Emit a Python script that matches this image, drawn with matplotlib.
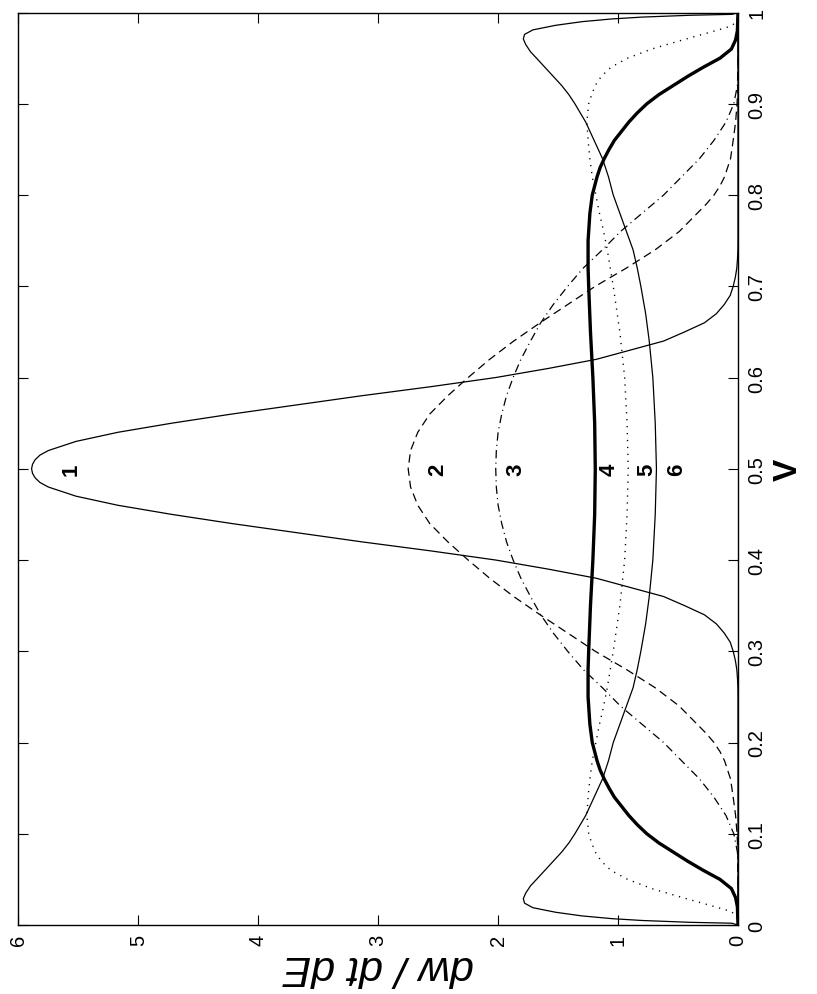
import matplotlib
matplotlib.use("Agg")
import matplotlib.pyplot as plt

plt.rcParams['font.family'] = ['Liberation Sans', 'DejaVu Sans']
plt.rcParams['lines.scale_dashes'] = False

# ---- data: V (abscissa) and dw/dt dE (ordinate) ----
V1 = [0.00, 0.25, 0.26, 0.27, 0.28, 0.29, 0.30, 0.31, 0.32, 0.33, 0.34, 0.35, 0.36,
      0.37, 0.38, 0.39, 0.40, 0.41, 0.42, 0.43, 0.44, 0.45, 0.46, 0.47, 0.48, 0.485,
      0.49, 0.495, 0.50, 0.505, 0.51, 0.515, 0.52, 0.53, 0.54, 0.55, 0.56, 0.57, 0.58,
      0.59, 0.60, 0.61, 0.62, 0.63, 0.64, 0.65, 0.66, 0.67, 0.68, 0.69, 0.70, 0.71,
      0.72, 0.73, 0.74, 0.75, 1.00]
W1 = [0.0, 0.0, 0.001, 0.004, 0.01, 0.022, 0.04, 0.065, 0.115, 0.18, 0.28, 0.445, 0.62,
      0.90, 1.18, 1.58, 2.02, 2.56, 3.14, 3.68, 4.22, 4.72, 5.17, 5.52, 5.75, 5.82,
      5.86, 5.882, 5.89, 5.882, 5.86, 5.82, 5.75, 5.52, 5.17, 4.72, 4.22, 3.68, 3.14,
      2.56, 2.02, 1.58, 1.18, 0.90, 0.62, 0.445, 0.28, 0.18, 0.115, 0.065, 0.04, 0.022,
      0.01, 0.004, 0.001, 0.0, 0.0]

V2 = [0.00, 0.05, 0.08, 0.10, 0.12, 0.14, 0.16, 0.18, 0.19, 0.20, 0.21, 0.22, 0.24,
      0.26, 0.28, 0.30, 0.32, 0.34, 0.36, 0.38, 0.40, 0.42, 0.44, 0.46, 0.48, 0.50,
      0.52, 0.54, 0.56, 0.58, 0.60, 0.62, 0.64, 0.66, 0.68, 0.70, 0.72, 0.74, 0.76,
      0.78, 0.79, 0.80, 0.81, 0.82, 0.84, 0.86, 0.88, 0.90, 0.92, 0.95, 1.00]
W2 = [0.0, 0.0, 0.001, 0.008, 0.02, 0.04, 0.062, 0.112, 0.15, 0.20, 0.265, 0.34, 0.49,
      0.69, 0.93, 1.19, 1.42, 1.65, 1.87, 2.07, 2.25, 2.42, 2.57, 2.67, 2.73, 2.75,
      2.73, 2.67, 2.57, 2.42, 2.25, 2.07, 1.87, 1.65, 1.42, 1.19, 0.93, 0.69, 0.49,
      0.34, 0.265, 0.20, 0.15, 0.112, 0.062, 0.04, 0.02, 0.008, 0.001, 0.0, 0.0]

V3 = [0.00, 0.06, 0.08, 0.10, 0.12, 0.14, 0.16, 0.18, 0.20, 0.22, 0.24, 0.26, 0.28,
      0.30, 0.32, 0.34, 0.36, 0.38, 0.40, 0.42, 0.44, 0.46, 0.48, 0.50, 0.52, 0.54,
      0.56, 0.58, 0.60, 0.62, 0.64, 0.66, 0.68, 0.70, 0.72, 0.74, 0.76, 0.78, 0.80,
      0.82, 0.84, 0.86, 0.88, 0.90, 0.92, 0.94, 1.00]
W3 = [0.0, 0.0, 0.005, 0.035, 0.10, 0.20, 0.32, 0.47, 0.62, 0.80, 0.98, 1.13, 1.29,
      1.42, 1.54, 1.645, 1.73, 1.81, 1.875, 1.93, 1.97, 2.00, 2.015, 2.02, 2.015, 2.00,
      1.97, 1.93, 1.875, 1.81, 1.73, 1.645, 1.54, 1.42, 1.29, 1.13, 0.98, 0.80, 0.62,
      0.47, 0.32, 0.20, 0.10, 0.035, 0.005, 0.0, 0.0]

V4 = [0.00, 0.02, 0.03, 0.04, 0.05, 0.06, 0.07, 0.08, 0.09, 0.10, 0.11, 0.12, 0.13,
      0.14, 0.15, 0.16, 0.17, 0.18, 0.20, 0.22, 0.25, 0.28, 0.30, 0.35, 0.40, 0.45, 0.50,
      0.55, 0.60, 0.65, 0.70, 0.72, 0.75, 0.78, 0.80, 0.82, 0.83, 0.84, 0.85, 0.86, 0.87,
      0.88, 0.89, 0.90, 0.91, 0.92, 0.93, 0.94, 0.95, 0.96, 0.97, 0.98, 1.00]
W4 = [0.0, 0.005, 0.02, 0.055, 0.15, 0.29, 0.42, 0.54, 0.66, 0.76, 0.84, 0.91, 0.97,
      1.03, 1.075, 1.115, 1.15, 1.175, 1.215, 1.235, 1.25, 1.25, 1.245, 1.23, 1.21, 1.195, 1.19,
      1.195, 1.21, 1.23, 1.245, 1.25, 1.25, 1.235, 1.215, 1.175, 1.15, 1.115, 1.075, 1.03, 0.97,
      0.91, 0.84, 0.76, 0.66, 0.54, 0.42, 0.29, 0.15, 0.055, 0.02, 0.005, 0.0]

V5 = [0.00, 0.01, 0.015, 0.02, 0.03, 0.04, 0.05, 0.06, 0.07, 0.08, 0.09, 0.10, 0.12,
      0.14, 0.16, 0.18, 0.20, 0.22, 0.24, 0.26, 0.28, 0.30, 0.35, 0.40, 0.45, 0.50,
      0.55, 0.60, 0.65, 0.70, 0.72, 0.74, 0.76, 0.78, 0.80, 0.82, 0.84, 0.86, 0.88,
      0.90, 0.91, 0.92, 0.93, 0.94, 0.95, 0.96, 0.97, 0.98, 0.985, 0.99, 1.00]
W5 = [0.0, 0.01, 0.06, 0.19, 0.46, 0.72, 0.92, 1.06, 1.14, 1.19, 1.22, 1.245, 1.26,
      1.25, 1.235, 1.215, 1.185, 1.155, 1.12, 1.09, 1.065, 1.04, 0.985, 0.945, 0.925, 0.915,
      0.925, 0.945, 0.985, 1.04, 1.065, 1.09, 1.12, 1.155, 1.185, 1.215, 1.235, 1.25, 1.26,
      1.245, 1.22, 1.19, 1.14, 1.06, 0.92, 0.72, 0.46, 0.19, 0.06, 0.01, 0.0]

V6 = [0.000, 0.002, 0.003, 0.005, 0.007, 0.010, 0.014, 0.019, 0.024, 0.029, 0.035,
      0.043, 0.05, 0.06, 0.07, 0.08, 0.09, 0.10, 0.12, 0.14, 0.16, 0.18, 0.20, 0.22,
      0.24, 0.26, 0.28, 0.30, 0.33, 0.36, 0.40, 0.45, 0.50, 0.55, 0.60, 0.64, 0.67,
      0.70, 0.72, 0.74, 0.76, 0.78, 0.80, 0.82, 0.84, 0.86, 0.88, 0.90, 0.91, 0.92,
      0.93, 0.94, 0.95, 0.957, 0.965, 0.971, 0.976, 0.981, 0.986, 0.990, 0.993, 0.995,
      0.997, 0.998, 1.000]
W6 = [0.0, 0.05, 0.40, 0.80, 1.05, 1.30, 1.52, 1.71, 1.78, 1.79, 1.77,
      1.73, 1.68, 1.61, 1.54, 1.47, 1.41, 1.36, 1.27, 1.20, 1.13, 1.08, 1.04, 0.985,
      0.93, 0.875, 0.84, 0.81, 0.77, 0.74, 0.71, 0.69, 0.68, 0.69, 0.71, 0.74, 0.77,
      0.81, 0.84, 0.875, 0.93, 0.985, 1.04, 1.08, 1.13, 1.20, 1.27, 1.36, 1.41, 1.47,
      1.54, 1.61, 1.68, 1.73, 1.77, 1.79, 1.78, 1.71, 1.52, 1.30, 1.05, 0.80,
      0.40, 0.05, 0.0]

curve_labels = ['1', '2', '3', '4', '5', '6']
label_values = [5.56, 2.50, 1.85, 1.075, 0.76, 0.51]
label_V = [0.5, 0.5, 0.5, 0.5, 0.5, 0.5]

x_ticks = [0, 1, 2, 3, 4, 5, 6]
x_ticklabels = ['0', '1', '2', '3', '4', '5', '6']
v_ticks = [0.0, 0.1, 0.2, 0.3, 0.4, 0.5, 0.6, 0.7, 0.8, 0.9, 1.0]
v_ticklabels = ['0', '0.1', '0.2', '0.3', '0.4', '0.5', '0.6', '0.7', '0.8', '0.9', '1']

# ---- figure (the original chart is shown rotated by 90 degrees) ----
fig = plt.figure(figsize=(8.17, 9.95), dpi=100)
ax = fig.add_axes([0.0225, 0.0693, 0.8808, 0.9171])

thin = 0.9
ax.plot(W1, V1, color='black', lw=thin, solid_joinstyle='round')
ax.plot(W2, V2, color='black', lw=thin, dashes=(6.0, 3.6))
ax.plot(W3, V3, color='black', lw=thin, dashes=(6.0, 3.0, 0.8, 3.0))
ax.plot(W4, V4, color='black', lw=2.4, solid_joinstyle='round')
ax.plot(W5, V5, color='black', lw=1.0, dashes=(0.9, 4.1))
ax.plot(W6, V6, color='black', lw=thin, solid_joinstyle='round')

for t, xv, yv in zip(curve_labels, label_values, label_V):
    ax.text(xv, yv, t, rotation=90, ha='center', va='center',
            fontsize=16, fontweight='bold')

ax.set_xlim(6, 0)
ax.set_ylim(0, 1)
ax.set_xticks(x_ticks)
ax.set_xticklabels(x_ticklabels)
ax.set_yticks(v_ticks)
ax.set_yticklabels(v_ticklabels)

ax.tick_params(axis='both', direction='in', length=7.2, width=0.8,
               top=True, bottom=True, left=True, right=True, labelsize=14.5)
ax.tick_params(axis='y', labelleft=False, labelright=True, labelrotation=90, pad=7)
ax.tick_params(axis='x', labelrotation=90, pad=6)
for lab in ax.get_yticklabels():
    lab.set_va('center')
for sp in ax.spines.values():
    sp.set_linewidth(1.0)

ax.yaxis.set_label_position('right')
ax.set_ylabel('V', rotation=90, fontsize=24, fontweight='bold', labelpad=4)
ax.set_xlabel('dw / dt dE', rotation=180, fontsize=31, fontstyle='italic', labelpad=1)

fig.savefig('out.png', dpi=100)
